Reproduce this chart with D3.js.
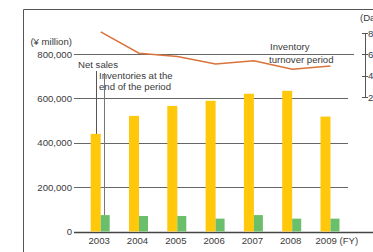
<!DOCTYPE html>
<html>
<head>
<meta charset="utf-8">
<script src="https://cdn.jsdelivr.net/npm/d3@7"></script>
<style>
  body { margin: 0; background: #fff; }
  text { font-family: "Liberation Sans", Arial, sans-serif; fill: #3a3a3a; font-size: 9.6px; }
</style>
</head>
<body>
<div class="chart"></div>
<script>
// data
const years = ['2003', '2004', '2005', '2006', '2007', '2008', '2009'];
const netSales = [440000, 521000, 566000, 589000, 621000, 634000, 518000];
const inventories = [74000, 70000, 70000, 58000, 74000, 58000, 58000];
const turnoverDays = [81, 61, 58, 51, 54, 46, 49];
const leftTicks = [0, 200000, 400000, 600000, 800000];
const rightTicks = [20, 40, 60, 80];

const W = 373, H = 252;
const svg = d3.select('.chart')
  .append('svg')
  .attr('width', W)
  .attr('height', H);

const x = d3.scalePoint().domain(years).range([100.7, 330.5]);
const y = d3.scaleLinear().domain([0, 800000]).range([231.5, 54]);
const yr = d3.scaleLinear().domain([20, 80]).range([97, 33]);

// frame
svg.append('path')
  .attr('d', `M23.5,${H} V9.5 H${W}`)
  .attr('fill', 'none')
  .attr('stroke', '#555')
  .attr('stroke-width', 1);

// grid lines + left labels
svg.selectAll('.grid')
  .data(leftTicks)
  .enter()
  .append('line')
  .attr('x1', 74)
  .attr('x2', d => d === 0 ? W : (d === 800000 ? 354 : 348))
  .attr('y1', d => Math.round(y(d)) + 0.5)
  .attr('y2', d => Math.round(y(d)) + 0.5)
  .attr('stroke', d => d === 0 ? '#444' : '#666')
  .attr('stroke-width', d => d === 0 ? 1.3 : 1);

svg.selectAll('.ylab')
  .data(leftTicks)
  .enter()
  .append('text')
  .attr('x', 72)
  .attr('y', d => y(d) + 3.5)
  .attr('text-anchor', 'end')
  .text(d => d3.format(',')(d));

svg.append('text')
  .attr('x', 72).attr('y', 45)
  .attr('text-anchor', 'end')
  .text('(¥ million)');

// bars
svg.selectAll('.sales')
  .data(netSales)
  .enter()
  .append('rect')
  .attr('x', (d, i) => x(years[i]) - 10)
  .attr('width', 10)
  .attr('y', d => y(d))
  .attr('height', d => y(0) - y(d))
  .attr('fill', '#ffc80a');

svg.selectAll('.inv')
  .data(inventories)
  .enter()
  .append('rect')
  .attr('x', (d, i) => x(years[i]))
  .attr('width', 9)
  .attr('y', d => y(d))
  .attr('height', d => y(0) - y(d))
  .attr('fill', '#6cbf6a');

// year labels
svg.selectAll('.xlab')
  .data(years.slice(0, -1))
  .enter()
  .append('text')
  .attr('x', d => x(d) - 1.5)
  .attr('y', 244)
  .attr('text-anchor', 'middle')
  .text(d => d);

svg.append('text')
  .attr('x', x('2009') - 15).attr('y', 244)
  .text(years[6] + ' (FY)');

// turnover line
const line = d3.line()
  .x((d, i) => x(years[i]))
  .y(d => yr(d));

svg.append('path')
  .datum(turnoverDays)
  .attr('d', line)
  .attr('fill', 'none')
  .attr('stroke', '#d9733c')
  .attr('stroke-width', 1.5);

// right axis
svg.append('line')
  .attr('x1', 365.5).attr('x2', 365.5)
  .attr('y1', yr(80)).attr('y2', yr(20))
  .attr('stroke', '#555');

svg.selectAll('.rtick')
  .data(rightTicks)
  .enter()
  .append('line')
  .attr('x1', 362).attr('x2', 368)
  .attr('y1', d => Math.round(yr(d)) + 0.5)
  .attr('y2', d => Math.round(yr(d)) + 0.5)
  .attr('stroke', '#555');

svg.selectAll('.rlab')
  .data(rightTicks)
  .enter()
  .append('text')
  .attr('x', 368)
  .attr('y', d => yr(d) + 3.5)
  .text(d => d);

svg.append('text')
  .attr('x', 360).attr('y', 21)
  .text('(Days)');

// annotations
svg.append('text')
  .attr('x', 78).attr('y', 68)
  .text('Net sales');

svg.append('line')
  .attr('x1', 96.5).attr('x2', 96.5)
  .attr('y1', 71).attr('y2', y(netSales[0]))
  .attr('stroke', '#555');

svg.append('text')
  .attr('x', 99).attr('y', 79)
  .text('Inventories at the');
svg.append('text')
  .attr('x', 99).attr('y', 90)
  .text('end of the period');

svg.append('line')
  .attr('x1', 104.5).attr('x2', 104.5)
  .attr('y1', 73).attr('y2', y(inventories[0]))
  .attr('stroke', '#777');

svg.append('text')
  .attr('x', 270).attr('y', 50)
  .text('Inventory');
svg.append('text')
  .attr('x', 269).attr('y', 63)
  .text('turnover period');
</script>
</body>
</html>
